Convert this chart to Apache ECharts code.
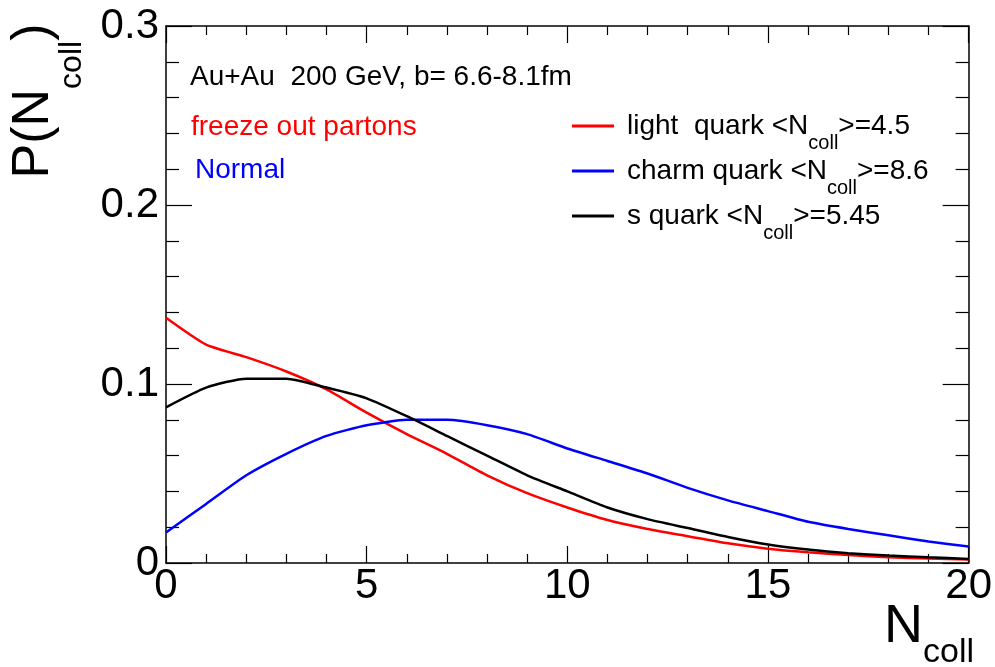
<!DOCTYPE html>
<html>
<head>
<meta charset="utf-8">
<script src="https://cdn.jsdelivr.net/npm/echarts@6/dist/echarts.min.js"></script>
<style>
  html, body { margin: 0; padding: 0; background: #fff; }
  #chart { width: 995px; height: 667px; }
</style>
</head>
<body>
<div id="chart"></div>
<script>
// N_coll values (x) and P(N_coll)
const nColl = [0, 1, 2, 3, 4, 5, 6, 7, 8, 9, 10, 11, 12, 13, 14, 15, 16, 17, 18, 19, 20]
const lightQuark = [0.137, 0.122, 0.115, 0.107, 0.097, 0.084, 0.072, 0.061, 0.049, 0.039, 0.031,
  0.024, 0.019, 0.015, 0.011, 0.008, 0.006, 0.0045, 0.0032, 0.0025, 0.002]
const charmQuark = [0.017, 0.033, 0.049, 0.061, 0.071, 0.077, 0.080, 0.080, 0.077, 0.072, 0.064,
  0.057, 0.050, 0.042, 0.035, 0.029, 0.023, 0.019, 0.0155, 0.012, 0.0092]
const sQuark = [0.087, 0.098, 0.103, 0.103, 0.098, 0.092, 0.082, 0.071, 0.060, 0.049, 0.040,
  0.031, 0.0245, 0.0195, 0.0145, 0.0103, 0.0075, 0.0055, 0.0042, 0.0032, 0.0023]

const seriesNames = ['light', 'charm', 's']
const legendLabels = {
  light: ['light  quark <N', '>=4.5'],
  charm: ['charm quark <N', '>=8.6'],
  s: ['s quark <N', '>=5.45']
}

const FONT = 'Liberation Sans, Arial, Helvetica, sans-serif'

const chart = echarts.init(document.getElementById('chart'))

function pairs(ys) {
  return nColl.map((x, i) => [x, ys[i]])
}

function xAxisCfg(pos, showLabel) {
  return {
    type: 'value',
    position: pos,
    min: 0,
    max: 20,
    interval: 5,
    axisLine: { show: true, onZero: false, lineStyle: { color: '#000', width: 1.5 } },
    axisTick: { show: true, inside: true, length: 17, lineStyle: { color: '#000', width: 1.2 } },
    minorTick: { show: true, splitNumber: 5, length: 9, lineStyle: { color: '#000', width: 1.2 } },
    splitLine: { show: false },
    axisLabel: {
      show: showLabel,
      margin: 2,
      color: '#000',
      fontSize: 42,
      fontFamily: FONT
    }
  }
}

function yAxisCfg(pos, showLabel) {
  return {
    type: 'value',
    position: pos,
    min: 0,
    max: 0.3,
    interval: 0.1,
    axisLine: { show: true, onZero: false, lineStyle: { color: '#000', width: 1.5 } },
    axisTick: { show: true, inside: true, length: 26, lineStyle: { color: '#000', width: 1.2 } },
    minorTick: { show: true, splitNumber: 5, length: 13, lineStyle: { color: '#000', width: 1.2 } },
    splitLine: { show: false },
    axisLabel: {
      show: showLabel,
      margin: 7,
      color: '#000',
      fontSize: 42,
      fontFamily: FONT
    }
  }
}

const option = {
  animation: false,
  backgroundColor: '#fff',
  grid: { left: 166, right: 25, top: 26, bottom: 104 },
  xAxis: [xAxisCfg('bottom', true), xAxisCfg('top', false)],
  yAxis: [yAxisCfg('left', true), yAxisCfg('right', false)],
  legend: {
    orient: 'vertical',
    left: 572,
    top: 112,
    padding: 0,
    itemGap: 4,
    itemWidth: 42,
    itemHeight: 3,
    icon: 'rect',
    data: seriesNames,
    formatter: function (name) {
      const t = legendLabels[name]
      return '{f|' + t[0] + '}{s|coll}{a|' + t[1] + '}'
    },
    textStyle: {
      color: '#000',
      fontFamily: FONT,
      fontSize: 28,
      rich: {
        f: { fontSize: 28, lineHeight: 28, fontFamily: FONT, color: '#000', padding: [0, 0, 0, 8] },
        a: { fontSize: 28, lineHeight: 28, fontFamily: FONT, color: '#000' },
        s: { fontSize: 20, lineHeight: 28, fontFamily: FONT, color: '#000', verticalAlign: 'top', padding: [21, 0, 0, 0] }
      }
    }
  },
  graphic: [
    {
      type: 'text', left: 190, top: 63,
      style: { text: 'Au+Au  200 GeV, b= 6.6-8.1fm', fill: '#000', font: '28px ' + FONT }
    },
    {
      type: 'text', left: 191, top: 113,
      style: { text: 'freeze out partons', fill: '#ff0000', font: '28px ' + FONT }
    },
    {
      type: 'text', left: 195, top: 156,
      style: { text: 'Normal', fill: '#0000ff', font: '28px ' + FONT }
    },
    {
      // x axis title N_coll
      type: 'text', x: 884, y: 600,
      style: {
        text: '{m|N}{s|coll}',
        verticalAlign: 'top',
        rich: {
          m: { fontSize: 54, lineHeight: 54, fontFamily: FONT, fill: '#000' },
          s: { fontSize: 34, lineHeight: 54, fontFamily: FONT, fill: '#000', verticalAlign: 'top', padding: [36, 0, 0, 0] }
        }
      }
    },
    {
      // y axis title P(N_coll)
      type: 'text', x: 34, y: 101, rotation: Math.PI / 2,
      style: {
        text: '{m|P(N}{s|coll}{m|)}',
        align: 'center',
        verticalAlign: 'middle',
        rich: {
          m: { fontSize: 52, lineHeight: 52, fontFamily: FONT, fill: '#000' },
          s: { fontSize: 32, lineHeight: 52, fontFamily: FONT, fill: '#000', verticalAlign: 'top', padding: [48, 0, 0, 0] }
        }
      }
    }
  ],
  series: [
    {
      name: 'light',
      type: 'line',
      data: pairs(lightQuark),
      showSymbol: false,
      smooth: 0.2,
      color: '#ff0000',
      lineStyle: { color: '#ff0000', width: 2.5 }
    },
    {
      name: 'charm',
      type: 'line',
      data: pairs(charmQuark),
      showSymbol: false,
      smooth: 0.2,
      color: '#0000ff',
      lineStyle: { color: '#0000ff', width: 2.5 }
    },
    {
      name: 's',
      type: 'line',
      data: pairs(sQuark),
      showSymbol: false,
      smooth: 0.2,
      color: '#000000',
      lineStyle: { color: '#000000', width: 2.5 }
    }
  ]
}

chart.setOption(option)

window.addEventListener('resize', () => {
  chart.resize()
})
</script>
</body>
</html>
